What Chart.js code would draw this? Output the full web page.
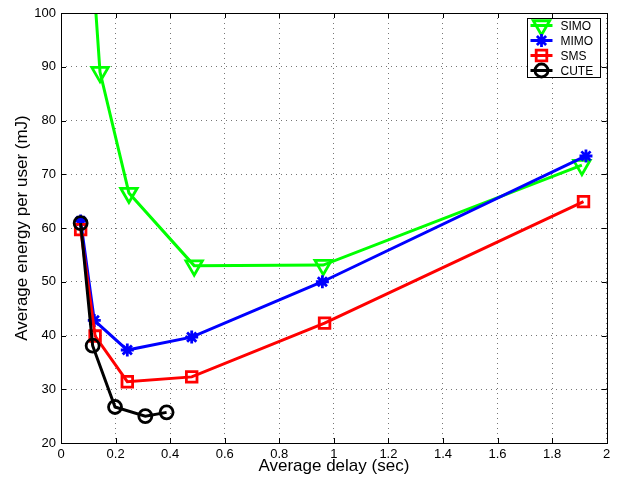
<!DOCTYPE html>
<html>
<head>
<meta charset="utf-8">
<script src="https://cdn.jsdelivr.net/npm/chart.js@4.4.1/dist/chart.umd.min.js"></script>
<style>
  html, body { margin: 0; padding: 0; background: #fff; }
  #wrap { width: 619px; height: 483px; }
</style>
</head>
<body>
<div id="wrap"><canvas id="c" width="619" height="483"></canvas></div>
<script>
// Average delay (sec) and average energy per user (mJ) for each scheme
const simoDelay  = [0.072, 0.143, 0.249, 0.488, 0.961, 1.909];
const simoEnergy = [141, 89.0, 66.5, 53.0, 53.1, 71.7];
const mimoDelay  = [0.072, 0.122, 0.243, 0.479, 0.958, 1.924];
const mimoEnergy = [61.3, 42.8, 37.3, 39.7, 50.0, 73.4];
const smsDelay   = [0.072, 0.125, 0.243, 0.479, 0.966, 1.915];
const smsEnergy  = [59.7, 39.9, 31.4, 32.3, 42.3, 64.9];
const cuteDelay  = [0.072, 0.116, 0.198, 0.309, 0.387];
const cuteEnergy = [60.9, 38.1, 26.7, 25.0, 25.7];

const seriesNames = ['SIMO', 'MIMO', 'SMS', 'CUTE'];
const xTicks = [0, 0.2, 0.4, 0.6, 0.8, 1, 1.2, 1.4, 1.6, 1.8, 2];
const yTicks = [20, 30, 40, 50, 60, 70, 80, 90, 100];

const FONT = '"Liberation Sans", Arial, Helvetica, sans-serif';

function pts(xs, ys) { return xs.map((x, i) => ({ x: x, y: ys[i] })); }

const styles = [
  { color: '#00ff00', pointStyle: 'triangle', radius: 9.5, rotation: 180 },
  { color: '#0000ff', pointStyle: 'star', radius: 6.5, rotation: 0 },
  { color: '#ff0000', pointStyle: 'rect', radius: 7.5, rotation: 0 },
  { color: '#000000', pointStyle: 'circle', radius: 6.5, rotation: 0 }
];
const seriesData = [pts(simoDelay, simoEnergy), pts(mimoDelay, mimoEnergy),
                    pts(smsDelay, smsEnergy), pts(cuteDelay, cuteEnergy)];

const datasets = seriesNames.map((name, i) => ({
  label: name,
  data: seriesData[i],
  showLine: true,
  borderColor: styles[i].color,
  backgroundColor: 'rgba(0,0,0,0)',
  borderWidth: 3,
  pointStyle: styles[i].pointStyle,
  pointRadius: styles[i].radius,
  pointRotation: styles[i].rotation,
  pointBorderColor: styles[i].color,
  pointBackgroundColor: 'rgba(0,0,0,0)',
  pointBorderWidth: 2.8,
  tension: 0,
  order: seriesNames.length - i
}));

// Box around the axes with inward tick marks, plus a boxed legend
const axesBox = {
  id: 'axesBox',
  afterDatasetsDraw(chart) {
    const { ctx, chartArea: a } = chart;
    const xs = chart.scales.x, ys = chart.scales.y;
    ctx.save();
    ctx.strokeStyle = '#000';
    ctx.lineWidth = 1;
    ctx.beginPath();
    const tl = 5;
    xTicks.forEach(v => {
      const px = Math.round(xs.getPixelForValue(v)) + 0.5;
      ctx.moveTo(px, a.bottom); ctx.lineTo(px, a.bottom - tl);
      ctx.moveTo(px, a.top); ctx.lineTo(px, a.top + tl);
    });
    yTicks.forEach(v => {
      const py = Math.round(ys.getPixelForValue(v)) + 0.5;
      ctx.moveTo(a.left, py); ctx.lineTo(a.left + tl, py);
      ctx.moveTo(a.right, py); ctx.lineTo(a.right - tl, py);
    });
    ctx.stroke();
    ctx.strokeRect(Math.round(a.left) + 0.5, Math.round(a.top) + 0.5,
                   Math.round(a.right - a.left), Math.round(a.bottom - a.top));

    // legend
    const bx = 527.5, by = 18.5, bw = 73, bh = 59;
    ctx.fillStyle = '#fff';
    ctx.fillRect(bx, by, bw, bh);
    ctx.strokeRect(bx, by, bw, bh);
    ctx.font = '12px ' + FONT;
    ctx.textBaseline = 'middle';
    ctx.textAlign = 'left';
    seriesNames.forEach((name, i) => {
      const y = by + 7 + i * 15;
      const st = styles[i];
      ctx.strokeStyle = st.color;
      ctx.lineWidth = 3;
      ctx.beginPath();
      ctx.moveTo(bx + 3, y); ctx.lineTo(bx + 25, y);
      ctx.stroke();
      ctx.lineWidth = 2.8;
      ctx.fillStyle = 'rgba(0,0,0,0)';
      Chart.helpers.drawPoint(ctx, {
        pointStyle: st.pointStyle, rotation: st.rotation,
        radius: st.radius, borderWidth: 2.8
      }, bx + 14, y);
      ctx.fillStyle = '#000';
      ctx.fillText(name, bx + 33, y + 1);
    });
    ctx.restore();
  }
};

new Chart(document.getElementById('c'), {
  type: 'scatter',
  data: { datasets: datasets },
  options: {
    responsive: false,
    animation: false,
    layout: { padding: { left: 0, right: 12, top: 13, bottom: 0 } },
    plugins: { legend: { display: false }, tooltip: { enabled: false } },
    scales: {
      x: {
        type: 'linear', min: 0, max: 2,
        afterBuildTicks: s => { s.ticks = xTicks.map(v => ({ value: v })); },
        afterFit: s => { s.height = 40; },
        ticks: {
          color: '#000', padding: 4, maxRotation: 0,
          font: { family: FONT, size: 13 },
          callback: v => String(Number(Number(v).toFixed(1)))
        },
        grid: { color: '#777', lineWidth: 1, drawTicks: false },
        border: { display: false, dash: [1, 4] },
        title: {
          display: true, text: 'Average delay (sec)', color: '#000',
          font: { family: FONT, size: 17 }, padding: { top: 0, bottom: 6 }
        }
      },
      y: {
        type: 'linear', min: 20, max: 100,
        afterBuildTicks: s => { s.ticks = yTicks.map(v => ({ value: v })); },
        afterFit: s => { s.width = 61; },
        ticks: {
          color: '#000', padding: 5,
          font: { family: FONT, size: 13 },
          callback: v => String(v)
        },
        grid: { color: '#777', lineWidth: 1, drawTicks: false },
        border: { display: false, dash: [1, 4] },
        title: {
          display: true, text: 'Average energy per user (mJ)', color: '#000',
          font: { family: FONT, size: 17 }, padding: { top: 12, bottom: 0 }
        }
      }
    }
  },
  plugins: [axesBox]
});
</script>
</body>
</html>
